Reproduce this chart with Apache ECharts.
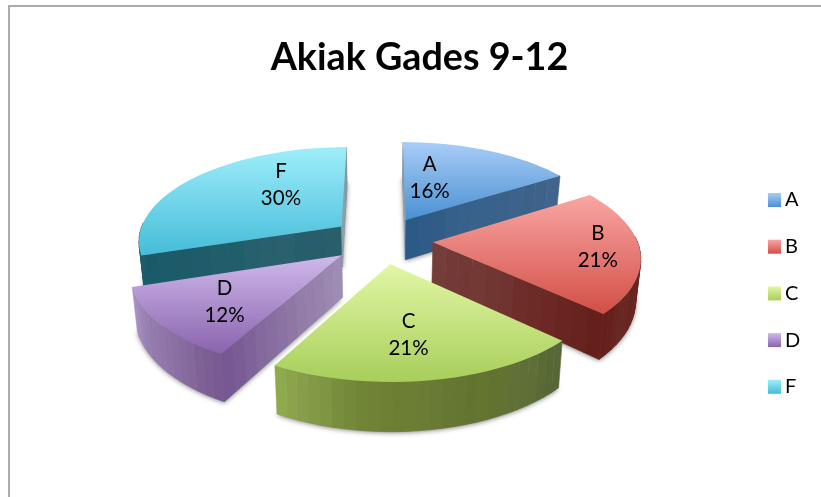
<!DOCTYPE html>
<html>
<head>
<meta charset="utf-8">
<title>Akiak Gades 9-12</title>
<script src="https://cdn.jsdelivr.net/npm/echarts@6/dist/echarts.min.js"></script>
<style>
    html, body { margin: 0; padding: 0; background: #fff; }
    #chart { position: absolute; left: 0; top: 0; width: 821px; height: 497px; }
    #frame { position: absolute; left: 8px; top: 5px; right: 0; bottom: 0; border-top: 2px solid #ababab; border-left: 2px solid #ababab; }
</style>
</head>
<body>
<div id="frame"></div>
<div id="chart"></div>
<script>
// data
const grades = ['A', 'B', 'C', 'D', 'F']
const shares = [16, 21, 21, 12, 30]

// colours, one entry per grade
const topColors = [
    ['#a8cdf7', '#4a90d2'],
    ['#f9a6a4', '#d24f46'],
    ['#e2f7a6', '#a8ce5a'],
    ['#cfb9ea', '#8a63ae'],
    ['#9feefa', '#45bcd8'],
]
const startFaceColors = [
    ['#93a6ba', '#8397ad'],
    ['#743e3a', '#661f1b'],
    ['#8ea84e', '#566636'],
    ['#a08fb4', '#765690'],
    ['#2a5f6c', '#1a5a68'],
]
const endFaceColors = [
    ['#2b5a86', '#41648b'],
    ['#743e3a', '#651f1b'],
    ['#8ea84e', '#566636'],
    ['#a08fb4', '#765690'],
    ['#8ea4ad', '#7d97a5'],
]
const rimColors = [
    ['#41648b', '#41648b'],
    ['#73332e', '#64201b'],
    ['#566636', '#62732f', '#6c7f33', '#8ea84e'],
    ['#785890', '#a48fc0'],
    ['#1a5a68', '#1d5b69'],
]
// where the label sits inside its slice: share of the sweep, share of the radius
const labelSweep = [0.26, 0.473, 0.53, 0.47, 0.683]
const labelReach = [0.53, 0.8, 0.64, 0.68, 0.6]

// tilted pie projection
const CX = 382, CY = 240, RX = 204, RY = 94
const PERSPECTIVE = 0.14, DEPTH = 41, EXPLODE = 0.25, DROP_SHRINK = 0.98
const rad = d => d * Math.PI / 180
const total = shares.reduce((a, b) => a + b, 0)

function project(u, v, drop) {
    const w = 1 + PERSPECTIVE * v
    return [
        CX + RX * u / w * (drop ? DROP_SHRINK : 1),
        CY - RY * v / w + (drop ? DEPTH / w : 0),
    ]
}

function vGradient(c) {
    return new echarts.graphic.LinearGradient(0, 0, 0, 1, [
        { offset: 0, color: c[0] },
        { offset: 1, color: c[1] },
    ])
}

// faint vertical bands on the side walls
function shade(colors, t, i) {
    const base = echarts.color.lerp(t, colors)
    return echarts.color.lift(base, 0.025 * Math.sin(Math.floor(i / 3) * 2.1))
}

function quad(a, b, fill) {
    return {
        type: 'polygon',
        shape: { points: [project(a[0], a[1]), project(b[0], b[1]), project(b[0], b[1], true), project(a[0], a[1], true)] },
        style: { fill: fill, stroke: fill, lineWidth: 0.6 },
    }
}

function sliceShapes(index) {
    const before = shares.slice(0, index).reduce((a, b) => a + b, 0)
    const a0 = before / total * 360
    const a1 = (before + shares[index]) / total * 360
    const mid = (a0 + a1) / 2
    const apex = [EXPLODE * Math.sin(rad(mid)), EXPLODE * Math.cos(rad(mid))]
    const rim = a => [apex[0] + Math.sin(rad(a)), apex[1] + Math.cos(rad(a))]
    const steps = Math.ceil((a1 - a0) / 3)
    const rimPts = []
    for (let i = 0; i <= steps; i++) {
        rimPts.push(rim(a0 + (a1 - a0) * i / steps))
    }
    const outline = [apex].concat(rimPts)
    const children = []

    // soft shadow under the slice
    children.push({
        type: 'polygon',
        shape: { points: outline.map(p => project(p[0], p[1], true)) },
        style: {
            fill: '#888',
            shadowColor: 'rgba(0,0,0,0.5)',
            shadowBlur: 5,
            shadowOffsetY: 1,
        },
    })

    // the two straight walls, drawn only when they face the viewer
    const wall = (angle, normal, colors) => {
        if (Math.cos(rad(normal)) > 0.05) return
        const tip = rim(angle)
        const n = 12
        for (let i = 0; i < n; i++) {
            const p = [apex[0] + (tip[0] - apex[0]) * i / n, apex[1] + (tip[1] - apex[1]) * i / n]
            const q = [apex[0] + (tip[0] - apex[0]) * (i + 1) / n, apex[1] + (tip[1] - apex[1]) * (i + 1) / n]
            children.push(quad(p, q, shade(colors, (i + 0.5) / n, i)))
        }
    }
    wall(a0, a0 - 90, startFaceColors[index])
    wall(a1, a1 + 90, endFaceColors[index])

    // curved wall
    for (let i = 0; i < steps; i++) {
        const angle = a0 + (a1 - a0) * (i + 0.5) / steps
        if (Math.cos(rad(angle)) > 0.05) continue
        children.push(quad(rimPts[i], rimPts[i + 1], shade(rimColors[index], (i + 0.5) / steps, i)))
    }

    // top face
    children.push({
        type: 'polygon',
        shape: { points: outline.map(p => project(p[0], p[1])) },
        style: { fill: vGradient(topColors[index]) },
    })

    // label
    const la = rad(a0 + (a1 - a0) * labelSweep[index])
    const lp = project(apex[0] + labelReach[index] * Math.sin(la), apex[1] + labelReach[index] * Math.cos(la))
    children.push({
        type: 'text',
        style: {
            text: grades[index] + '\n' + Math.round(shares[index] / total * 100) + '%',
            x: lp[0],
            y: lp[1],
            align: 'center',
            verticalAlign: 'middle',
            fill: '#000',
            font: '20.5px Lato',
            lineHeight: 27,
        },
    })
    return { type: 'group', children: children }
}

// back slices are painted first
function paintRank(index) {
    const before = shares.slice(0, index).reduce((a, b) => a + b, 0)
    const mid = (before + shares[index] / 2) / total * 360
    return 10 - Math.cos(rad(mid)) * 5
}

const chart = echarts.init(document.getElementById('chart'), null, { renderer: 'canvas' })
chart.setOption({
    animation: false,
    title: {
        text: 'Akiak Gades 9-12',
        left: 414.5,
        top: 34,
        textAlign: 'center',
        textStyle: { fontFamily: 'Lato', fontSize: 37.7, fontWeight: 'bold', color: '#000' },
    },
    legend: {
        orient: 'vertical',
        left: 763,
        top: 185,
        icon: 'rect',
        itemWidth: 13,
        itemHeight: 14,
        itemGap: 26.7,
        textStyle: { fontFamily: 'Lato', fontSize: 20, color: '#000', padding: [0, 0, 0, -1] },
        data: grades.map((name, i) => ({ name: name, itemStyle: { color: vGradient(topColors[i]) } })),
    },
    series: grades.map((name, i) => ({
        type: 'custom',
        name: name,
        coordinateSystem: 'none',
        z: paintRank(i),
        silent: true,
        itemStyle: { color: topColors[i][1] },
        data: [shares[i]],
        renderItem: () => sliceShapes(i),
    })),
})
</script>
</body>
</html>
